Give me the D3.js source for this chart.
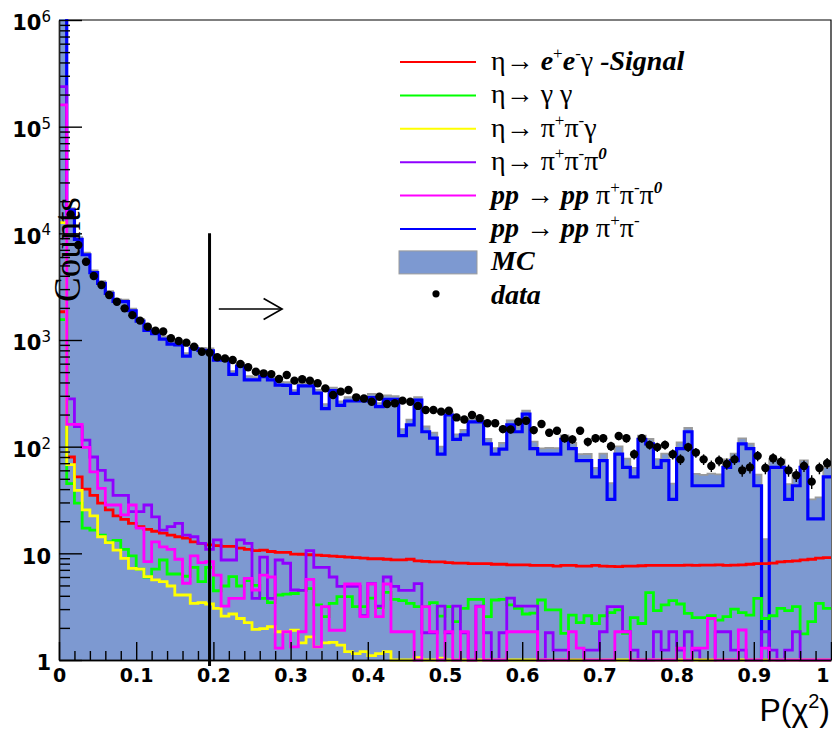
<!DOCTYPE html>
<html>
<head>
<meta charset="utf-8">
<script src="https://cdn.jsdelivr.net/npm/d3@7"></script>
<style>
  body { margin: 0; background: #fff; }
  svg { display: block; }
</style>
</head>
<body>
<svg id="chart" width="832" height="729"></svg>
<script>
// ---- histogram binning: 100 bins over P(chi^2) in [0, 1] ----
const nBins = 100;
const binWidth = 0.01;

// total MC (stacked sum of all simulated channels)
const mcTotal = [
  1.6e6, 17240, 9227, 6596, 4492, 3559, 2868, 2410, 2389, 1969,
  1574, 1296, 1214, 1078, 970, 951, 751, 877, 842, 832,
  688, 680, 510, 606, 459, 448, 485, 448, 404, 402,
  338, 393, 403, 341, 251, 357, 265, 292, 291, 286,
  312, 256, 303, 297, 146, 179, 291, 154.5, 135.4, 100,
  213, 130.6, 143.8, 182.7, 189, 118.4, 96.6, 108.4, 176.7, 153.9,
  217.5, 111.5, 96.4, 97.5, 96.8, 127.7, 108.2, 85.1, 85.4, 63.1,
  86, 45.5, 100.5, 77.1, 63.3, 126.9, 118, 76.4, 86.2, 45.1,
  109.6, 150.3, 55.7, 54.5, 55.8, 55, 76.1, 86, 119.7, 106.5,
  54.8, 13.6, 75.9, 75.4, 44.5, 56.5, 74.5, 32.1, 33.4, 64.2
];

// pp -> pp pi+ pi-
const ppPiPi = [
  1.2e6, 16600, 8790, 6300, 4280, 3400, 2740, 2300, 2290, 1880,
  1500, 1230, 1150, 1020, 915, 898, 707, 830, 800, 790,
  649, 649, 477, 570, 422, 422, 453, 422, 378, 376,
  316, 371, 371, 318, 227, 335, 244, 268, 268, 268,
  288, 237, 278, 278, 127, 160, 273, 138, 120, 85,
  198, 117, 129, 171, 171, 106, 85, 95, 160, 138,
  202, 96, 85, 85, 85, 117, 96, 74, 74, 52,
  74, 32, 85, 64, 52, 117, 106, 64, 74, 32,
  96, 138, 43, 43, 43, 43, 64, 74, 106, 96,
  43, 0, 64, 64, 32, 43, 64, 21, 21, 52
];

// eta -> e+ e- gamma (signal)
const etaEEGamma = [
  1840, 80, 52, 40, 35, 29.5, 25.5, 22.4, 20.8, 19.1,
  17.8, 16.8, 16.1, 15.5, 14.8, 14.3, 13.9, 12.8, 12.4, 12.0,
  11.8, 11.6, 11.6, 11.2, 10.9, 10.6, 10.7, 10.4, 10.2, 10.2,
  9.85, 9.8, 9.7, 9.6, 9.5, 9.4, 9.3, 9.2, 9.1, 9.0,
  8.9, 8.9, 8.8, 8.7, 8.7, 8.8, 8.5, 8.4, 8.3, 8.3,
  8.2, 8.1, 8.1, 8.0, 8.0, 8.0, 7.9, 7.9, 7.8, 7.8,
  7.8, 7.7, 7.7, 7.7, 7.6, 7.7, 7.7, 7.6, 7.6, 7.7,
  7.6, 7.55, 7.5, 7.6, 7.6, 7.65, 7.7, 7.7, 7.7, 7.7,
  7.7, 7.75, 7.7, 7.75, 7.75, 7.8, 7.7, 7.75, 7.8, 7.9,
  8.0, 8.0, 8.1, 8.3, 8.4, 8.5, 8.7, 8.8, 9.0, 9.1
];

// eta -> gamma gamma
const etaGammaGamma = [
  1550, 45, 29.5, 17.2, 16.5, 14.8, 12.8, 13.2, 10.9, 9.45,
  7.1, 6.0, 7.1, 8.66, 6.4, 6.4, 6.1, 7.4, 5.42, 7.4,
  4.46, 4.94, 6.04, 4.94, 5.54, 5.0, 3.79, 3.45, 4.07, 4.14,
  4.2, 4.5, 4.66, 3.28, 2.55, 3.4, 3.92, 3.92, 3.16, 3.16,
  3.8, 3.1, 4.3, 3.7, 3.6, 3.4, 3.16, 3.16, 3.45, 2.58,
  3.16, 2.29, 3.05, 3.7, 3.7, 2.55, 3.65, 3.7, 3.28, 3.05,
  2.7, 2.75, 3.65, 2.95, 2.95, 1.78, 2.64, 2.24, 2.6, 2.2,
  2.6, 2.78, 2.95, 1.78, 2.5, 2.2, 4.28, 2.9, 3.28, 3.6,
  3.35, 2.74, 2.5, 2.5, 2.6, 2.36, 2.55, 3.0, 2.78, 2.64,
  3.79, 2.45, 2.6, 3.05, 2.9, 3.16, 1.76, 2.29, 3.4, 3.05
];

// eta -> pi+ pi- gamma
const etaPiPiGamma = [
  12600, 68, 39, 25.5, 22.4, 14.3, 12.6, 10.7, 8.97, 7.24,
  7.1, 6.04, 5.63, 5.42, 4.94, 4.07, 4.07, 3.4, 3.45, 3.35,
  3.05, 2.58, 2.7, 2.45, 2.24, 1.94, 1.97, 2.05, 1.84, 1.84,
  1.9, 1.45, 1.65, 1.33, 1.45, 1.46, 1.38, 1.2, 1.15, 1.2,
  1.1, 1.15, 1.2, 0, 0, 0, 1.05, 0, 0, 1.04,
  0, 0, 0, 0, 0, 0, 0, 0, 0, 0,
  0, 0, 0, 0, 0, 0, 0, 0, 0, 0,
  0, 0, 0, 0, 0, 0, 0, 0, 0, 0,
  0, 0, 0, 0, 0, 0, 0, 0, 0, 0,
  0, 0, 0, 0, 0, 0, 0, 0, 0, 0
];

// eta -> pi+ pi- pi0
const etaPiPiPi0 = [
  237000, 280, 154, 115, 80, 60, 48.6, 35, 35, 24.6,
  24.6, 28.4, 22, 16.5, 17.8, 19.1, 14.8, 14.3, 12.4, 10.9,
  13.4, 8.66, 8.66, 13.4, 12.4, 3.79, 9.2, 3.79, 8.66, 8.07,
  4.53, 4.5, 10.6, 7.4, 7.4, 6.0, 4.9, 4.9, 4.9, 2.6,
  5.2, 3.2, 6.0, 4.9, 4.5, 4.5, 5.2, 1.8, 1.8, 3.2,
  1.8, 3.2, 1.8, 0, 3.2, 1.8, 0, 1.8, 3.8, 3.2,
  3.2, 3.2, 0, 1.8, 1.24, 1.24, 0, 0, 1.24, 1.24,
  1.84, 3.16, 3.16, 1.84, 1.24, 0, 0, 1.84, 1.24, 1.84,
  1.24, 1.84, 1.24, 0, 0, 1.84, 1.84, 1.24, 1.24, 0,
  0, 1.84, 1.24, 0, 1.24, 1.84, 0, 0, 0, 0
];

// pp -> pp pi+ pi- pi0 (direct)
const ppPiPiPi0 = [
  160000, 162, 162, 98.6, 58, 40.6, 28.4, 28.4, 22.9, 28.4,
  17.2, 8.35, 12.8, 11.5, 10.9, 8.8, 5.24, 9.45, 8.17, 8.35,
  6.25, 3.2, 3.79, 3.79, 5.83, 4.53, 6.25, 6.0, 1.29, 1.84,
  1.33, 1.84, 5.7, 1.33, 3.16, 1.9, 1.9, 5.16, 5.16, 2.55,
  5.16, 2.55, 5.16, 1.84, 1.84, 1.84, 0, 3.16, 1.84, 0,
  1.84, 0, 1.84, 0, 3.16, 0, 0, 0, 1.84, 1.84,
  1.84, 1.84, 0, 0, 0, 0, 1.84, 1.29, 0, 0,
  0, 0, 1.84, 1.84, 0, 0, 0, 0, 0, 0,
  1.29, 0, 1.29, 1.29, 2.45, 0, 0, 0, 1.91, 0,
  0, 1.29, 0, 0, 0, 0, 0, 0, 0, 0
];

// measured data counts per bin
const dataCounts = [
  1.3e6, 15000, 7780, 5420, 3980, 3280, 2640, 2280, 1980, 1710,
  1520, 1330, 1220, 1200, 1040, 980, 944, 865, 776, 760,
  689, 670, 649, 596, 555, 504, 487, 479, 431, 470,
  416, 429, 416, 393, 352, 305, 328, 340, 290, 283,
  264, 294, 251, 255, 270, 264, 241, 221, 221, 213,
  217, 188, 180, 198, 185, 166, 166, 146, 145, 171,
  175, 143, 163, 135, 141, 120, 117, 141, 111, 120,
  120, 101, 126, 120, 85, 120, 104, 99, 104, 85,
  76, 99, 88, 76, 66, 74, 69, 76, 60, 64,
  82, 63, 78, 72, 60, 54, 66, 47, 63, 70
];

// axis ticks and labels
const xTickValues = [0, 0.1, 0.2, 0.3, 0.4, 0.5, 0.6, 0.7, 0.8, 0.9, 1];
const xTickLabels = ["0", "0.1", "0.2", "0.3", "0.4", "0.5", "0.6", "0.7", "0.8", "0.9", "1"];
const yTickValues = [1, 10, 1e2, 1e3, 1e4, 1e5, 1e6];
const yTickBases = ["1", "10", "10", "10", "10", "10", "10"];
const yTickExponents = ["", "", "2", "3", "4", "5", "6"];

// selection cut and arrow
const cutValue = 0.195;
const cutTopCount = 1e4;
const arrowFrom = 0.207;
const arrowTo = 0.289;
const arrowCount = 1950;

// ---- layout ----
const svg = d3.select("#chart");
const margin = { top: 20, right: 1, bottom: 69, left: 59 };
const width = 832 - margin.left - margin.right;
const height = 729 - margin.top - margin.bottom;

const x = d3.scaleLinear().domain([0, 1]).range([0, width]);
const y = d3.scaleLog().domain([1, 1e6]).range([height, 0]);
const yPix = v => y(Math.max(v, 1));

const COLORS = {
  mc: "#7d99d1",
  mcEdge: "#9b9b9b",
  blue: "#0000ff",
  red: "#ff0000",
  green: "#00ff00",
  yellow: "#ffff00",
  violet: "#8f00ff",
  magenta: "#ff00ff"
};

const SERIF = "'Liberation Serif', 'Times New Roman', Times, serif";
const g = svg.append("g").attr("transform", `translate(${margin.left},${margin.top})`);

svg.append("defs").append("clipPath").attr("id", "plotClip")
  .append("rect").attr("x", 0).attr("y", -1).attr("width", width).attr("height", height + 3);

// frame (top and right)
g.append("path")
  .attr("d", `M0,0H${width}V${height}`)
  .attr("fill", "none").attr("stroke", "#000").attr("stroke-width", 1.2);

function stepPoints(vals) {
  const pts = vals.map((v, i) => [i * binWidth, v]);
  pts.push([nBins * binWidth, vals[nBins - 1]]);
  return pts;
}
const stepLine = d3.line().curve(d3.curveStepAfter)
  .x(d => x(d[0])).y(d => yPix(d[1]));
const stepArea = d3.area().curve(d3.curveStepAfter)
  .x(d => x(d[0])).y0(height).y1(d => yPix(d[1]));

const plot = g.append("g").attr("clip-path", "url(#plotClip)");

// MC filled histogram with grey edge
plot.append("path").attr("d", stepArea(stepPoints(mcTotal)))
  .attr("fill", COLORS.mc).attr("stroke", "none");
plot.append("path").attr("d", stepLine(stepPoints(mcTotal)))
  .attr("fill", "none").attr("stroke", COLORS.mcEdge).attr("stroke-width", 1.8);

// ---- axes ----
const axisStyle = sel => {
  sel.selectAll("line").attr("stroke", "#000").attr("stroke-width", 1.4);
  sel.select(".domain").attr("stroke", "#222").attr("stroke-width", 1.4);
};

const yMinor = [];
for (let k = 0; k < 6; k++) for (let m = 2; m <= 9; m++) yMinor.push(m * Math.pow(10, k));
g.append("g").call(d3.axisLeft(y).tickValues(yMinor).tickSizeInner(-11).tickSizeOuter(0).tickFormat(""))
  .call(axisStyle);
const yAxisG = g.append("g")
  .call(d3.axisLeft(y).tickValues(yTickValues).tickSizeInner(-23).tickSizeOuter(0).tickPadding(8)
    .tickFormat((d, i) => yTickBases[i]))
  .call(axisStyle);
yAxisG.selectAll(".tick text")
  .attr("font-family", "'DejaVu Sans', sans-serif")
  .attr("font-weight", "bold")
  .attr("font-size", "21px")
  .attr("fill", "#000")
  .attr("dy", "0.46em")
  .each(function (d, i) {
    const exp = yTickExponents[i];
    if (exp) {
      d3.select(this).append("tspan")
        .attr("dy", "-0.55em").attr("font-size", "15px").attr("font-weight", "normal")
        .text(exp);
    }
  });

const xMinor = d3.range(0, 50).map(i => i * 0.02).filter((v, i) => i % 5 !== 0);
g.append("g").attr("transform", `translate(0,${height})`)
  .call(d3.axisBottom(x).tickValues(xMinor).tickSizeInner(-9).tickSizeOuter(0).tickFormat(""))
  .call(axisStyle);
const xAxisG = g.append("g").attr("transform", `translate(0,${height})`)
  .call(d3.axisBottom(x).tickValues(xTickValues).tickSizeInner(-18).tickSizeOuter(0).tickPadding(9)
    .tickFormat((d, i) => xTickLabels[i]))
  .call(axisStyle);
xAxisG.select(".domain").attr("stroke", "#000");
xAxisG.selectAll(".tick text")
  .attr("font-family", "'DejaVu Sans', sans-serif")
  .attr("font-weight", "bold")
  .attr("font-size", "19px")
  .attr("fill", "#000");
// keep the last label inside the canvas edge
xAxisG.selectAll(".tick text").filter(d => d === 1).attr("text-anchor", "end").attr("dx", "-2px");

// ---- component histograms (line only) ----
const components = [
  { vals: ppPiPi, color: COLORS.blue, w: 3.2 },
  { vals: etaEEGamma, color: COLORS.red, w: 2.8 },
  { vals: etaGammaGamma, color: COLORS.green, w: 2.8 },
  { vals: etaPiPiPi0, color: COLORS.violet, w: 2.8 },
  { vals: etaPiPiGamma, color: COLORS.yellow, w: 2.8 },
  { vals: ppPiPiPi0, color: COLORS.magenta, w: 2.8 }
];
components.forEach(c => {
  plot.append("path").attr("d", stepLine(stepPoints(c.vals)))
    .attr("fill", "none").attr("stroke", c.color).attr("stroke-width", c.w)
    .attr("stroke-linejoin", "miter");
});

// ---- data points with Poisson error bars ----
const dataG = plot.append("g");
dataCounts.forEach((n, i) => {
  const cx = x((i + 0.5) * binWidth);
  const err = Math.sqrt(n);
  dataG.append("line")
    .attr("x1", cx).attr("x2", cx)
    .attr("y1", yPix(n + err)).attr("y2", yPix(n - err))
    .attr("stroke", "#000").attr("stroke-width", 1.4);
  dataG.append("circle").attr("cx", cx).attr("cy", yPix(n)).attr("r", 4.2).attr("fill", "#000");
});

// ---- selection cut and arrow ----
g.append("line")
  .attr("x1", x(cutValue)).attr("x2", x(cutValue))
  .attr("y1", yPix(cutTopCount)).attr("y2", height + 6)
  .attr("stroke", "#000").attr("stroke-width", 3);
const ay = yPix(arrowCount);
const tipX = x(arrowTo);
g.append("line")
  .attr("x1", x(arrowFrom)).attr("x2", tipX).attr("y1", ay).attr("y2", ay)
  .attr("stroke", "#000").attr("stroke-width", 1.6);
g.append("path")
  .attr("d", `M${tipX - 18.5},${ay - 10.5}L${tipX},${ay}L${tipX - 18.5},${ay + 10.5}`)
  .attr("fill", "none").attr("stroke", "#000").attr("stroke-width", 1.6);

// ---- legend ----
const legendItems = [
  { type: "line", color: COLORS.red,
    parts: [["η→ ", "r"], ["e", "bi"], ["+", "sup"], ["e", "bi"], ["-", "sup"], ["γ", "r"], [" -Signal", "bi"]] },
  { type: "line", color: COLORS.green, parts: [["η→ γ γ", "r"]] },
  { type: "line", color: COLORS.yellow,
    parts: [["η→ π", "r"], ["+", "sup"], ["π", "r"], ["-", "sup"], ["γ", "r"]] },
  { type: "line", color: COLORS.violet,
    parts: [["η→ π", "r"], ["+", "sup"], ["π", "r"], ["-", "sup"], ["π", "r"], ["0", "supbi"]] },
  { type: "line", color: COLORS.magenta,
    parts: [["pp", "bi"], [" → ", "r"], ["pp", "bi"], [" π", "r"], ["+", "sup"], ["π", "r"], ["-", "sup"], ["π", "r"], ["0", "supbi"]] },
  { type: "line", color: COLORS.blue,
    parts: [["pp", "bi"], [" → ", "r"], ["pp", "bi"], [" π", "r"], ["+", "sup"], ["π", "r"], ["-", "sup"]] },
  { type: "box", color: COLORS.mc, parts: [["MC", "bi"]] },
  { type: "dot", color: "#000", parts: [["data", "bi"]] }
];

const legend = svg.append("g");
const legX0 = 400, legX1 = 476, legTextX = 491, legY0 = 62, legStep = 33.4;
legendItems.forEach((item, i) => {
  const cy = legY0 + i * legStep;
  if (item.type === "line") {
    legend.append("line").attr("x1", legX0).attr("x2", legX1).attr("y1", cy).attr("y2", cy)
      .attr("stroke", item.color).attr("stroke-width", 2);
  } else if (item.type === "box") {
    legend.append("rect").attr("x", legX0 - 1).attr("y", cy - 11.5).attr("width", legX1 - legX0 + 2).attr("height", 23)
      .attr("fill", item.color).attr("stroke", COLORS.mcEdge).attr("stroke-width", 1);
  } else {
    legend.append("circle").attr("cx", 436).attr("cy", cy - 2).attr("r", 3.6).attr("fill", item.color);
  }
  const t = legend.append("text").attr("x", legTextX).attr("y", cy + 8)
    .attr("font-family", SERIF)
    .attr("font-size", "28px").attr("fill", "#000");
  let raised = false;
  item.parts.forEach(([txt, st]) => {
    const sp = t.append("tspan").text(txt);
    const isSup = st === "sup" || st === "supbi";
    if (isSup && !raised) { sp.attr("dy", -11); raised = true; }
    else if (!isSup && raised) { sp.attr("dy", 11); raised = false; }
    if (isSup) sp.attr("font-size", "17px");
    if (st === "bi" || st === "supbi") sp.attr("font-weight", "bold").attr("font-style", "italic");
    if (st === "i") sp.attr("font-style", "italic");
  });
});

// ---- axis titles ----
svg.append("text")
  .attr("transform", "translate(80,302) rotate(-90)")
  .attr("font-family", SERIF)
  .attr("font-size", "37px").attr("fill", "#000")
  .text("Counts");

const xt = svg.append("text")
  .attr("x", 830).attr("y", 721).attr("text-anchor", "end")
  .attr("font-family", "'Liberation Sans', Arial, sans-serif")
  .attr("font-size", "32px").attr("fill", "#000");
xt.append("tspan").text("P(");
xt.append("tspan").text("χ");
xt.append("tspan").attr("dy", -13).attr("font-size", "20px").text("2");
xt.append("tspan").attr("dy", 13).text(")");
</script>
</body>
</html>
